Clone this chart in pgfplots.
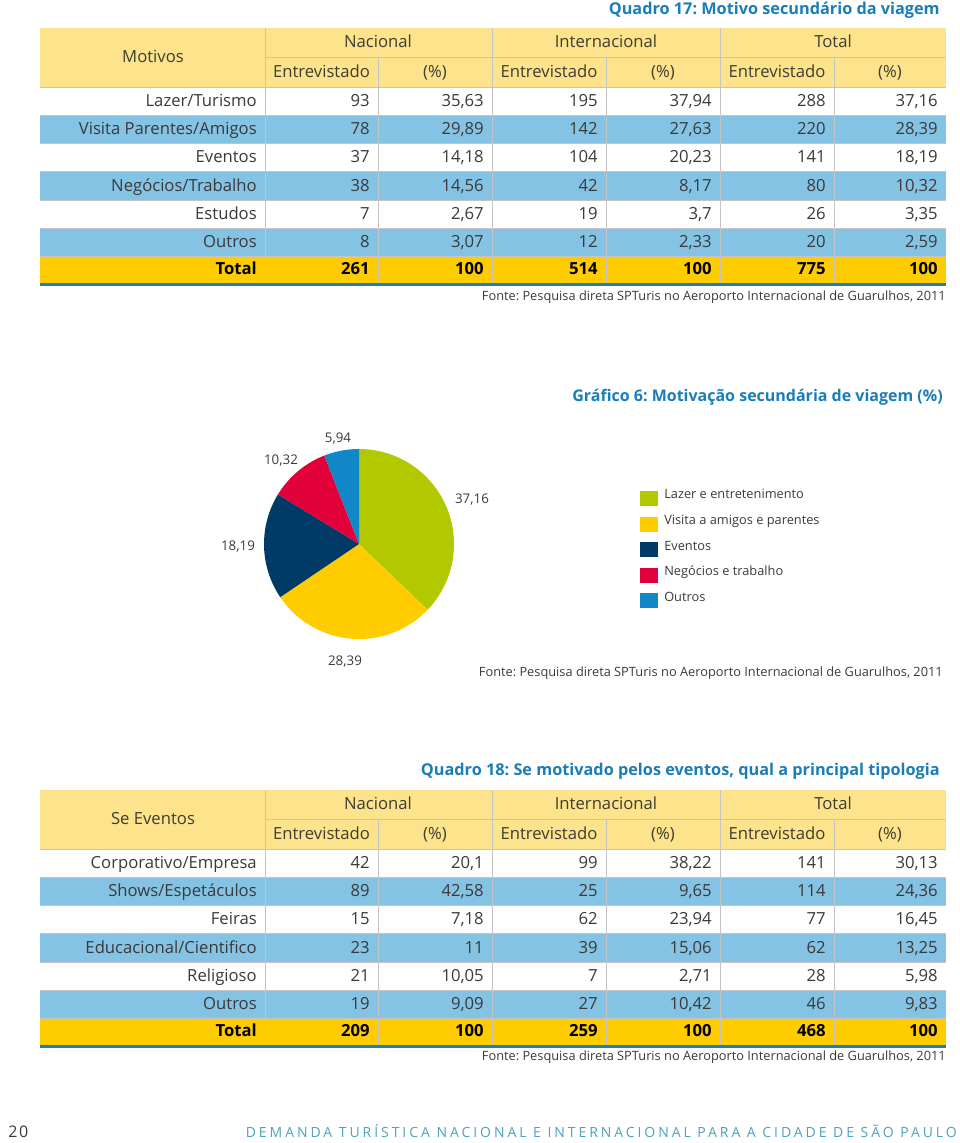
\documentclass[border=0pt]{standalone}
\usepackage{pgfplots}
\pgfplotsset{compat=1.18}
\usepackage{fontspec}
\setmainfont{Open Sans}
\frenchspacing
\definecolor{hdr}{HTML}{FCE38C}
\definecolor{tblue}{HTML}{84C3E4}
\definecolor{tgold}{HTML}{FFCC00}
\definecolor{tline}{HTML}{1B82B5}
\definecolor{ttl}{HTML}{1A7DB8}
\definecolor{gridc}{HTML}{C4C4C4}
\definecolor{txt}{HTML}{3A3A3A}
\definecolor{hdrtxt}{HTML}{3E3D30}
\definecolor{foot}{HTML}{4AA3BD}
\definecolor{pgreen}{HTML}{B2C800}
\definecolor{pyellow}{HTML}{FFCC00}
\definecolor{pnavy}{HTML}{003B68}
\definecolor{pred}{HTML}{E2003B}
\definecolor{pblue}{HTML}{1287C8}

% pie data (%)
\def\vA{37.16}\def\vB{28.39}\def\vC{18.19}\def\vD{10.32}\def\vE{5.94}

\newcommand\tfont{\fontsize{12.5}{14}\selectfont}
\newcommand\tablebg{%
  \fill[hdr] (40,0) rectangle (946,59);
  \fill[white] (40,59) rectangle (946,228.5);
  \fill[tblue] (40,59+28.25) rectangle (946,59+2*28.25);
  \fill[tblue] (40,59+3*28.25) rectangle (946,59+4*28.25);
  \fill[tblue] (40,59+5*28.25) rectangle (946,59+6*28.25);
  \fill[tgold] (40,228.5) rectangle (946,254.5);
  \fill[tline] (40,254.5) rectangle (946,257.5);
  \draw[gridc,line width=0.75] (265,29.5) -- (946,29.5);
  \foreach \k in {0,...,6}{\draw[gridc,line width=0.75] (40,59+\k*28.25) -- (946,59+\k*28.25);}
  \foreach \xx in {265,492,720}{\draw[gridc,line width=0.75] (\xx,0) -- (\xx,254.5);}
  \foreach \xx in {378,606,834}{\draw[gridc,line width=0.75] (\xx,29.5) -- (\xx,254.5);}
  \node[hdrtxt] at (378,15.5) {Nacional};
  \node[hdrtxt] at (606,15.5) {Internacional};
  \node[hdrtxt] at (833,15.5) {Total};
  \foreach \xx in {321.5,549,777}{\node[hdrtxt] at (\xx,45) {Entrevistado};}
  \foreach \xx in {435,663,890}{\node[hdrtxt] at (\xx,45) {(\%)};}
}
\newcommand\trow[8]{%
  \node[anchor=east] at (257,#1) {#2};
  \node[anchor=east] at (370,#1) {#3};
  \node[anchor=east] at (484,#1) {#4};
  \node[anchor=east] at (598,#1) {#5};
  \node[anchor=east] at (712,#1) {#6};
  \node[anchor=east] at (826,#1) {#7};
  \node[anchor=east] at (938,#1) {#8};
}
\newcommand\rmid[1]{\fpeval{60+(#1-0.5)*28.25}}
\newcommand\fonte{Fonte: Pesquisa direta SPTuris no Aeroporto Internacional de Guarulhos, 2011}

\begin{document}
\begin{tikzpicture}[x=0.75pt,y=-0.75pt,font=\tfont,every node/.style={inner sep=0pt,text=txt,text height=1.6ex,text depth=0.4ex}]
\useasboundingbox (0,0) rectangle (960,1143);

% ---------- Quadro 17 ----------
\node[anchor=east,text=ttl,font=\fontsize{12.2}{14}\selectfont\bfseries] at (940,10) {Quadro 17: Motivo secundário da viagem};
\begin{scope}[shift={(0,28)}]
  \tablebg
  \node[hdrtxt] at (153,30.5) {Motivos};
  \trow{\rmid{1}}{Lazer/Turismo}{93}{35,63}{195}{37,94}{288}{37,16}
  \trow{\rmid{2}}{Visita Parentes/Amigos}{78}{29,89}{142}{27,63}{220}{28,39}
  \trow{\rmid{3}}{Eventos}{37}{14,18}{104}{20,23}{141}{18,19}
  \trow{\rmid{4}}{Negócios/Trabalho}{38}{14,56}{42}{8,17}{80}{10,32}
  \trow{\rmid{5}}{Estudos}{7}{2,67}{19}{3,7}{26}{3,35}
  \trow{\rmid{6}}{Outros}{8}{3,07}{12}{2,33}{20}{2,59}
  \begin{scope}[every node/.append style={font=\tfont\bfseries,text=black}]
  \trow{242}{Total}{261}{100}{514}{100}{775}{100}
  \end{scope}
\end{scope}
\node[anchor=east,font=\fontsize{9.6}{11}\selectfont] at (946,296) {\fonte};

% ---------- Gráfico 6 ----------
\node[anchor=east,text=ttl,font=\fontsize{12}{14}\selectfont\bfseries] at (943,397) {Gráfico 6: Motivação secundária de viagem (\%)};
\pgfmathsetmacro\aA{90}
\pgfmathsetmacro\aB{\aA-3.6*\vA}
\pgfmathsetmacro\aC{\aB-3.6*\vB}
\pgfmathsetmacro\aD{\aC-3.6*\vC}
\pgfmathsetmacro\aE{\aD-3.6*\vD}
\pgfmathsetmacro\aF{\aE-3.6*\vE}
\coordinate (piec) at (359,544);
\begin{axis}[at={(piec)},anchor=center,x=0.75pt,y=0.75pt,
  xmin=-100,xmax=100,ymin=-100,ymax=100,hide axis,clip=false]
  \addplot[draw=none,fill=pgreen,domain=\aB:\aA,samples=80,variable=\t] ({95*cos(\t)},{95*sin(\t)}) -- (axis cs:0,0) -- cycle;
  \addplot[draw=none,fill=pyellow,domain=\aC:\aB,samples=80,variable=\t] ({95*cos(\t)},{95*sin(\t)}) -- (axis cs:0,0) -- cycle;
  \addplot[draw=none,fill=pnavy,domain=\aD:\aC,samples=60,variable=\t] ({95*cos(\t)},{95*sin(\t)}) -- (axis cs:0,0) -- cycle;
  \addplot[draw=none,fill=pred,domain=\aE:\aD,samples=40,variable=\t] ({95*cos(\t)},{95*sin(\t)}) -- (axis cs:0,0) -- cycle;
  \addplot[draw=none,fill=pblue,domain=\aF:\aE,samples=30,variable=\t] ({95*cos(\t)},{95*sin(\t)}) -- (axis cs:0,0) -- cycle;
\end{axis}
\begin{scope}[every node/.append style={font=\fontsize{10}{12}\selectfont}]
  \node at (472,499) {37,16};
  \node at (345,661) {28,39};
  \node at (238,546) {18,19};
  \node at (281,460) {10,32};
  \node at (338,438) {5,94};
  \fill[pgreen] (640,491) rectangle (658,506);
  \fill[pyellow] (640,517) rectangle (658,532);
  \fill[pnavy] (640,542) rectangle (658,557);
  \fill[pred] (640,568) rectangle (658,583);
  \fill[pblue] (640,593) rectangle (658,608);
\end{scope}
\begin{scope}[every node/.append style={font=\fontsize{9.6}{12}\selectfont}]
  \node[anchor=west] at (664,494) {Lazer e entretenimento};
  \node[anchor=west] at (664,520) {Visita a amigos e parentes};
  \node[anchor=west] at (664,546) {Eventos};
  \node[anchor=west] at (664,571) {Negócios e trabalho};
  \node[anchor=west] at (664,597) {Outros};
\end{scope}
\node[anchor=east,font=\fontsize{9.6}{12}\selectfont] at (943,672) {\fonte};

% ---------- Quadro 18 ----------
\node[anchor=east,text=ttl,font=\fontsize{12.2}{14}\selectfont\bfseries] at (940,771) {Quadro 18: Se motivado pelos eventos, qual a principal tipologia};
\begin{scope}[shift={(0,790)}]
  \tablebg
  \node[hdrtxt] at (153,30.5) {Se Eventos};
  \trow{\rmid{1}}{Corporativo/Empresa}{42}{20,1}{99}{38,22}{141}{30,13}
  \trow{\rmid{2}}{Shows/Espetáculos}{89}{42,58}{25}{9,65}{114}{24,36}
  \trow{\rmid{3}}{Feiras}{15}{7,18}{62}{23,94}{77}{16,45}
  \trow{\rmid{4}}{Educacional/Cientifico}{23}{11}{39}{15,06}{62}{13,25}
  \trow{\rmid{5}}{Religioso}{21}{10,05}{7}{2,71}{28}{5,98}
  \trow{\rmid{6}}{Outros}{19}{9,09}{27}{10,42}{46}{9,83}
  \begin{scope}[every node/.append style={font=\tfont\bfseries,text=black}]
  \trow{242}{Total}{209}{100}{259}{100}{468}{100}
  \end{scope}
\end{scope}
\node[anchor=east,font=\fontsize{9.6}{11}\selectfont] at (946,1056) {\fonte};

% ---------- footer ----------
\node[anchor=west,font=\fontsize{12}{14}\selectfont\addfontfeatures{LetterSpace=10}] at (8,1133) {20};
\node[anchor=east,text=foot,font=\fontsize{10.5}{12}\selectfont\addfontfeatures{LetterSpace=21}] at (957,1133) {DEMANDA TURÍSTICA NACIONAL E INTERNACIONAL PARA A CIDADE DE SÃO PAULO};
\end{tikzpicture}
\end{document}
